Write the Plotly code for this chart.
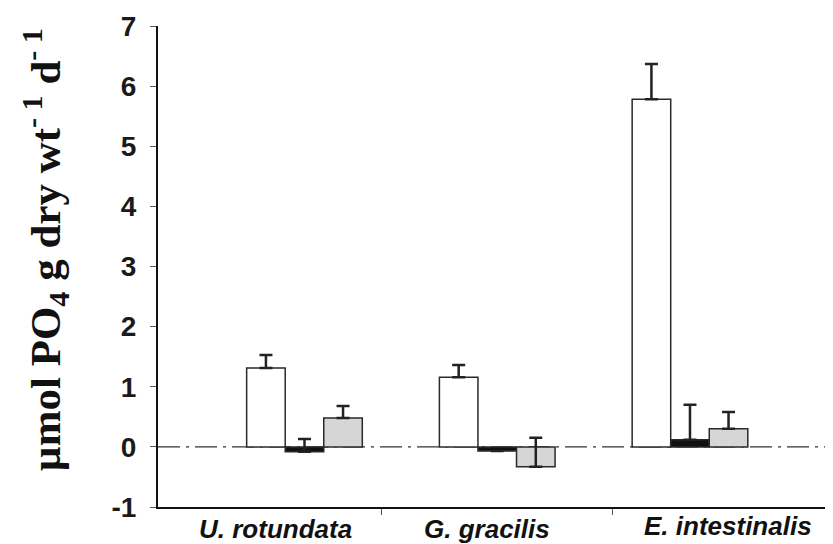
import plotly.graph_objects as go

categories = ["U. rotundata", "G. gracilis", "E. intestinalis"]
white_vals = [1.31, 1.16, 5.78]
white_err = [0.22, 0.20, 0.59]
black_vals = [-0.08, -0.07, 0.12]
black_err = [0.21, 0.0, 0.58]
gray_vals = [0.48, -0.33, 0.30]
gray_err = [0.20, 0.48, 0.28]
y_ticks = [-1, 0, 1, 2, 3, 4, 5, 6, 7]
y_ticktext = ["-1", "0", "1", "2", "3", "4", "5", "6", "7"]

xpos = list(range(len(categories)))
edge = "#2a2a2a"

def bar(vals, errs, fill, name):
    return go.Bar(
        x=xpos, y=vals, name=name, marker=dict(color=fill, line=dict(color=edge, width=1.5)),
        error_y=dict(type="data", array=errs, arrayminus=[0] * len(errs), symmetric=False,
                     color="#222222", thickness=2.5, width=6.5),
        showlegend=False,
    )

fig = go.Figure()
fig.add_trace(bar(white_vals, white_err, "#ffffff", "white"))
fig.add_trace(bar(black_vals, black_err, "#111111", "black"))
fig.add_trace(bar(gray_vals, gray_err, "#d6d6d6", "gray"))

# page body has an 8px default margin, so the figure is 8px smaller
fig.update_layout(
    width=825, height=536,
    margin=dict(l=150, r=0, t=18, b=37),
    paper_bgcolor="white", plot_bgcolor="white",
    barmode="group", bargap=0.4, bargroupgap=0,
    xaxis=dict(range=[-0.760, 2.742], showgrid=False, zeroline=False,
               showline=True, linecolor="#111111", linewidth=2,
               tickvals=[0.402, 1.600], ticktext=["", ""], ticks="outside",
               ticklen=6, tickwidth=1.2, tickcolor="#555555"),
    yaxis=dict(range=[-1, 7], tickvals=y_ticks, ticktext=y_ticktext,
               showgrid=False, zeroline=False,
               showline=True, linecolor="#111111", linewidth=2,
               ticks="outside", ticklen=6, tickwidth=1.2, tickcolor="#555555",
               tickfont=dict(family="Liberation Sans", size=28, color="#1a1a1a", weight="bold"),
               ticklabelstandoff=8),
)

fig.add_shape(type="line", xref="paper", x0=0, x1=1, yref="y", y0=0, y1=0,
              line=dict(color="#333333", width=1.2, dash="22px,6px,3px,6px"), layer="below")

label_x = [-0.153, 0.947, 2.198]
label_shift = [-22, -22, -19]
for name, lx, ls in zip(categories, label_x, label_shift):
    fig.add_annotation(x=lx, xref="x", y=-1, yref="y", yshift=ls, text="<i>%s</i>" % name,
                       showarrow=False,
                       font=dict(family="Liberation Sans", size=26, color="#111111", weight="bold"),
                       xanchor="center", yanchor="middle")

fig.add_annotation(
    text="\u00b5mol PO<sub>4</sub> g dry wt<sup>- 1</sup> d<sup>- 1</sup>",
    xref="paper", yref="paper", x=0, xshift=-113, y=0.534, textangle=-90,
    showarrow=False, font=dict(family="Liberation Serif", size=43, color="#111111", weight="bold"),
    xanchor="center", yanchor="middle",
)

fig.write_html("out.html")
